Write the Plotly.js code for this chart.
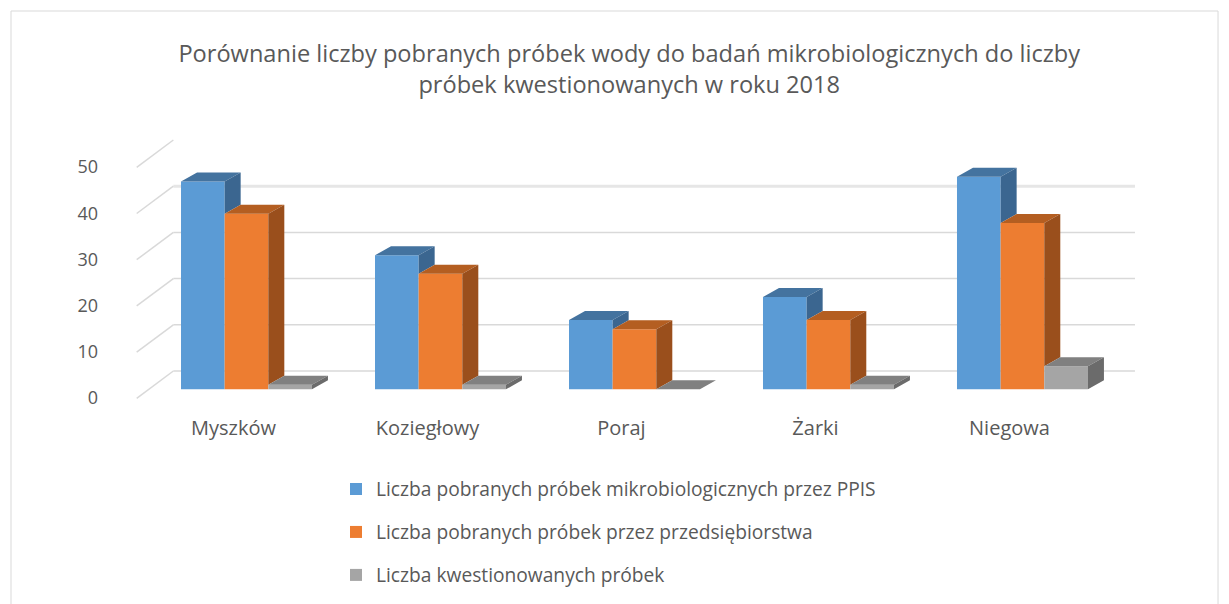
<!DOCTYPE html>
<html>
<head>
<meta charset="utf-8">
<script src="https://cdn.plot.ly/plotly-3.0.1.min.js"></script>
<style>html,body{margin:0;padding:0;background:#fff}#chart{width:1229px;height:604px}</style>
</head>
<body>
<div id="chart"></div>
<script>
// ---- data ----
const categories = ['Myszków', 'Koziegłowy', 'Poraj', 'Żarki', 'Niegowa'];
const seriesNames = [
  'Liczba pobranych próbek mikrobiologicznych przez PPIS',
  'Liczba pobranych próbek przez przedsiębiorstwa',
  'Liczba kwestionowanych próbek'
];
const ppis = [45, 29, 15, 20, 46];
const przedsiebiorstwa = [38, 25, 13, 15, 36];
const kwestionowane = [1, 1, 0, 1, 5];
const yTicks = [0, 10, 20, 30, 40, 50];
const wallGridTicks = [0, 10, 20, 30, 40];

// ---- style ----
const FONT = '"Open Sans", Lato, sans-serif';
const TXT = '#595959';
const frontCol = ['#5b9bd5', '#ed7d31', '#a5a5a5'];
const topCol = ['#44739f', '#b45e21', '#808080'];
const sideCol = ['#3b6690', '#9a4f1c', '#6b6b6b'];

// geometry (axis units)
const BAR_W = 0.225;               // width of one bar (category spacing = 1)
const DX = 0.0825;                 // depth offset in x units
const DY = 1.95;                   // depth offset in value units
const WALL_OFF = 3.96;             // back wall shift in value units
const FRONT_OFF = -1.95;           // front plane shift in value units
const X_WALL_L = -0.377, X_WALL_R = 4.58, X_SIDE_FRONT = -0.566;

const series = [ppis, przedsiebiorstwa, kwestionowane];
const xIdx = categories.map((c, i) => i);

const traces = [];
// front faces as bars
series.forEach((vals, k) => {
  traces.push({
    type: 'bar', x: xIdx, y: vals, name: seriesNames[k],
    width: BAR_W, offset: -1.5 * BAR_W + k * BAR_W,
    marker: {color: frontCol[k], line: {width: 0}},
    legendgroup: 'g' + k, hoverinfo: 'y'
  });
});

// top and side faces (depth) computed from the same values
series.forEach((vals, k) => {
  const tx = [], ty = [], sx = [], sy = [];
  vals.forEach((v, i) => {
    const x0 = i - 1.5 * BAR_W + k * BAR_W;
    const x1 = x0 + BAR_W;
    const next = k < series.length - 1 ? series[k + 1][i] : null;
    if (next !== null && next >= v) {
      tx.push(x0, x0 + DX, x1, x1, x0, null);
      ty.push(v, v + DY, v + DY, v, v, null);
    } else {
      tx.push(x0, x0 + DX, x1 + DX, x1, x0, null);
      ty.push(v, v + DY, v + DY, v, v, null);
      const base = next === null ? 0 : next;
      sx.push(x1, x1, x1 + DX, x1 + DX, x1, null);
      sy.push(base, v, v + DY, base + DY, base, null);
    }
  });
  traces.push({type: 'scatter', x: tx, y: ty, mode: 'none', fill: 'toself',
    fillcolor: topCol[k], showlegend: false, hoverinfo: 'skip', legendgroup: 'g' + k});
  if (sx.length) traces.push({type: 'scatter', x: sx, y: sy, mode: 'none', fill: 'toself',
    fillcolor: sideCol[k], showlegend: false, hoverinfo: 'skip', legendgroup: 'g' + k});
});
// dummy trace for label axis
traces.push({type: 'scatter', x: [null], y: [null], yaxis: 'y2', showlegend: false, hoverinfo: 'skip'});

// wall decoration
const shapes = [];
wallGridTicks.forEach(v => {
  const top = v === wallGridTicks[wallGridTicks.length - 1];
  shapes.push({type: 'line', xref: 'x', yref: 'y', layer: 'below',
    x0: X_WALL_L, x1: X_WALL_R, y0: v + WALL_OFF, y1: v + WALL_OFF,
    line: {color: top ? '#e6e6e6' : '#d9d9d9', width: top ? 3 : 1.5}});
});
yTicks.forEach(v => {
  shapes.push({type: 'line', xref: 'x', yref: 'y', layer: 'below',
    x0: X_SIDE_FRONT, x1: X_WALL_L, y0: v + FRONT_OFF, y1: v + WALL_OFF,
    line: {color: '#d9d9d9', width: 1.5}});
});
// chart border
shapes.push({type: 'rect', xref: 'paper', yref: 'paper', layer: 'below',
  x0: -0.1048, x1: 1.0558, y0: -0.8, y1: 1.425,
  line: {color: '#d9d9d9', width: 1}, fillcolor: 'rgba(0,0,0,0)'});

const layout = {
  width: 1229, height: 604,
  margin: {l: 120, r: 69, t: 130, b: 194, autoexpand: false},
  paper_bgcolor: '#fff', plot_bgcolor: '#fff',
  font: {family: FONT, color: TXT},
  title: {
    text: 'Porównanie liczby pobranych próbek wody do badań mikrobiologicznych do liczby<br>próbek kwestionowanych w roku 2018',
    font: {family: FONT, size: 23.6, color: TXT},
    x: 0.512, xref: 'container', xanchor: 'center',
    y: 0.897, yref: 'container', yanchor: 'middle'
  },
  showlegend: true,
  legend: {
    orientation: 'v', x: 0.2077, xanchor: 'left', y: -0.2143, yanchor: 'top',
    font: {family: FONT, size: 19.2, color: TXT},
    traceorder: 'grouped', tracegroupgap: 15, bgcolor: 'rgba(0,0,0,0)'
  },
  xaxis: {
    range: [-0.652, 4.709], tickvals: xIdx, ticktext: categories,
    showgrid: false, zeroline: false, showline: false, ticks: '',
    ticklabelshift: -13, ticklabelstandoff: 4, automargin: false,
    tickfont: {family: FONT, size: 20, color: TXT}, fixedrange: true
  },
  yaxis: {
    range: [-4.48, 56.126], showgrid: false, zeroline: false, showline: false,
    showticklabels: false, ticks: '', fixedrange: true, automargin: false
  },
  yaxis2: {
    overlaying: 'y', side: 'left', range: [-2.598, 58.008], automargin: false,
    tickvals: yTicks, showgrid: false, zeroline: false, showline: false, ticks: '',
    ticklabelstandoff: 21, tickfont: {family: FONT, size: 18, color: TXT}, fixedrange: true
  },
  shapes: shapes,
  hovermode: false
};

Plotly.newPlot('chart', traces, layout, {displayModeBar: false, staticPlot: true});
</script>
</body>
</html>
